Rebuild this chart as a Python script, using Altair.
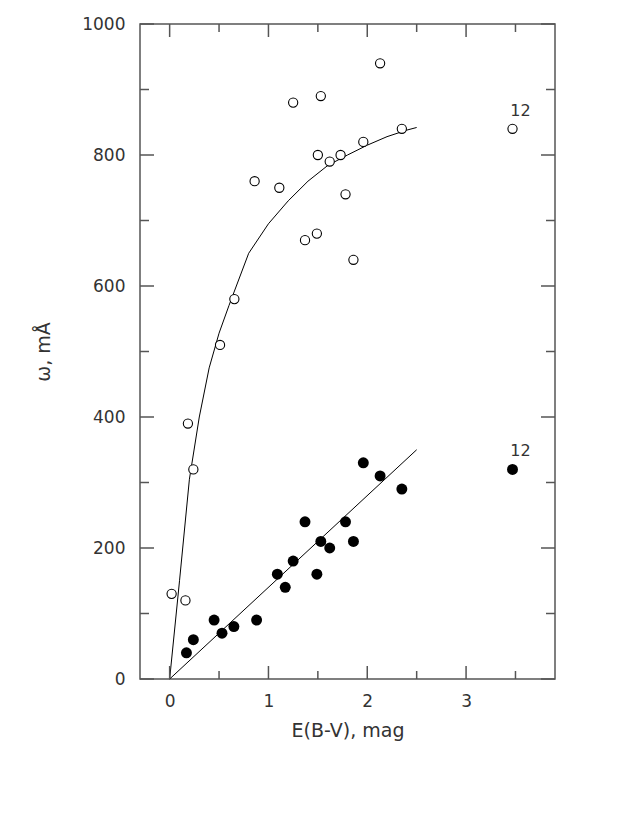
import altair as alt
import pandas as pd

# open circles (upper sequence)
open_x = [0.02, 0.16, 0.185, 0.24, 0.51, 0.655, 0.86, 1.11, 1.25, 1.37, 1.49, 1.50,
          1.53, 1.62, 1.73, 1.78, 1.86, 1.96, 2.13, 2.35, 3.47]
open_y = [130, 120, 390, 320, 510, 580, 760, 750, 880, 670, 680, 800,
          890, 790, 800, 740, 640, 820, 940, 840, 840]

# filled circles (lower sequence)
filled_x = [0.17, 0.24, 0.45, 0.53, 0.65, 0.88, 1.09, 1.17, 1.25, 1.37, 1.49, 1.53,
            1.62, 1.78, 1.86, 1.96, 2.13, 2.35, 3.47]
filled_y = [40, 60, 90, 70, 80, 90, 160, 140, 180, 240, 160, 210,
            200, 240, 210, 330, 310, 290, 320]

# fitted curves
curve_x = [0, 0.1, 0.2, 0.3, 0.4, 0.5, 0.6, 0.8, 1.0, 1.2, 1.4, 1.6, 1.8, 2.0, 2.2, 2.4, 2.5]
curve_y = [0, 150, 305, 400, 475, 528, 570, 650, 695, 730, 760, 784, 800, 815, 828, 838, 842]
line_x = [0, 2.5]
line_y = [0, 350]

# labelled points
lab_x = [3.47, 3.47]
lab_y = [840, 320]
lab_t = ["12", "12"]

# axis ticks
x_major = [0, 1, 2, 3]
x_minor = [0.5, 1.5, 2.5, 3.5]
y_major = [0, 200, 400, 600, 800, 1000]
y_minor = [100, 300, 500, 700, 900]

W, H = 415, 655
AX = "#555555"
FONT = "DejaVu Sans"

xs = alt.Scale(domain=[-0.3, 3.9], nice=False, zero=False)
ys = alt.Scale(domain=[0, 1000], nice=False, zero=False)

df_open = pd.DataFrame({"x": open_x, "y": open_y})
df_fill = pd.DataFrame({"x": filled_x, "y": filled_y})
df_curve = pd.DataFrame({"x": curve_x, "y": curve_y})
df_line = pd.DataFrame({"x": line_x, "y": line_y})
df_lab = pd.DataFrame({"x": lab_x, "y": lab_y, "t": lab_t})

xa = alt.Axis(values=x_major, format="d", title="E(B-V), mag", labelPadding=14, titlePadding=12,
              domain=False, ticks=False, grid=False)
ya = alt.Axis(values=y_major, format="d", title="ω, mÅ", labelPadding=15, titlePadding=28,
              domain=False, ticks=False, grid=False)


def X(f="x"):
    return alt.X(f + ":Q", scale=xs, axis=xa)


def Y(f="y"):
    return alt.Y(f + ":Q", scale=ys, axis=ya)


curve = alt.Chart(df_curve).mark_line(color="black", strokeWidth=1).encode(x=X(), y=Y(), order="x:Q")
line = alt.Chart(df_line).mark_line(color="black", strokeWidth=1).encode(x=X(), y=Y())
opens = alt.Chart(df_open).mark_point(shape="circle", filled=False, fill="white", fillOpacity=1,
                                      stroke="black", strokeWidth=1.1, size=85, opacity=1).encode(x=X(), y=Y())
fills = alt.Chart(df_fill).mark_circle(color="black", size=120, opacity=1).encode(x=X(), y=Y())
labels = alt.Chart(df_lab).mark_text(font=FONT, fontSize=16, color="#333333", dx=8, dy=-18,
                                     align="center", baseline="middle").encode(x=X(), y=Y(), text="t:N")


def xticks(vals, y0, y1):
    d = pd.DataFrame({"v": vals})
    return alt.Chart(d).mark_rule(color=AX, strokeWidth=1.5).encode(
        x=X("v"), y=alt.value(y0), y2=alt.value(y1))


def yticks(vals, x0, x1):
    d = pd.DataFrame({"v": vals})
    return alt.Chart(d).mark_rule(color=AX, strokeWidth=1.5).encode(
        y=Y("v"), x=alt.value(x0), x2=alt.value(x1))


ticks = [
    xticks(x_major, H, H - 13), xticks(x_minor, H, H - 8),
    xticks(x_major, 0, 13), xticks(x_minor, 0, 8),
    yticks(y_major, 0, 14), yticks(y_minor, 0, 9),
    yticks(y_major, W, W - 14), yticks(y_minor, W, W - 9),
]

chart = alt.layer(curve, line, *ticks, opens, fills, labels).properties(
    width=W, height=H,
    padding={"left": 132, "top": 16, "right": 60, "bottom": 100},
    autosize=alt.AutoSizeParams(type="none"),
    background="white",
).configure_view(
    stroke=AX, strokeWidth=1.5
).configure_axis(
    labelFont=FONT, labelFontSize=17, labelColor="#333333",
    titleFont=FONT, titleFontSize=19, titleColor="#333333", titleFontWeight="normal",
)

chart.save("out.html", embed_options={"renderer": "svg", "actions": False})
